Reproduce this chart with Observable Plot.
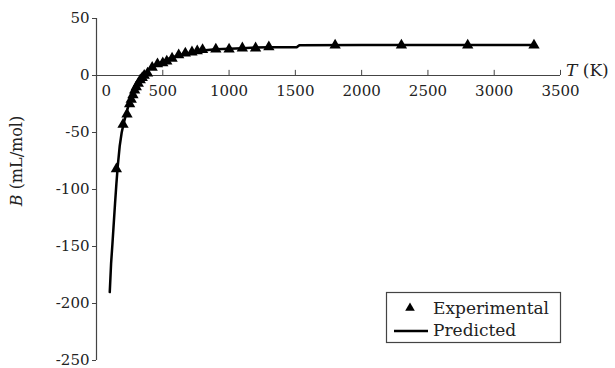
<!DOCTYPE html>
<html>
<head>
<meta charset="utf-8">
<script src="https://cdn.jsdelivr.net/npm/d3@7"></script>
<script src="https://cdn.jsdelivr.net/npm/@observablehq/plot@0.6"></script>
<style>
  html, body { margin: 0; padding: 0; background: #fff; }
</style>
</head>
<body>
<div id="chart"></div>
<script>
// Experimental points (T in K, B in mL/mol)
const expT = [150, 200, 230, 250, 262, 275, 288, 300, 315, 330, 345, 360, 385, 420, 460, 500, 530, 570, 620, 670, 720, 760, 800, 900, 1000, 1100, 1200, 1300, 1800, 2300, 2800, 3300];
const expB = [-82, -43, -34, -25, -21, -17, -13, -10, -7, -4, -2, 0, 2, 7, 10, 11, 12.5, 15, 18, 19.5, 20.5, 21.5, 22.5, 23, 23, 24, 24, 25, 26.6, 26.6, 26.6, 26.6];

// Predicted curve
const predT = [100, 110, 120, 130, 140, 150, 160, 175, 190, 205, 225, 250, 275, 300, 325, 350, 375, 400, 450, 500, 550, 600, 650, 700, 750, 800, 900, 1000, 1100, 1200, 1300, 1510, 1530, 2000, 2500, 3000, 3300];
const predB = [-190, -165, -148, -130, -112, -95, -80, -62, -50, -42, -33, -23, -15, -9, -4, 0, 3, 6, 9.5, 12.5, 15, 17, 18.5, 19.5, 20.5, 22, 23, 23.5, 24, 24.5, 24.8, 24.8, 26.6, 26.7, 26.7, 26.7, 26.7];

const xTicks = [0, 500, 1000, 1500, 2000, 2500, 3000, 3500];
const yTicks = [50, 0, -50, -100, -150, -200, -250];

const exp = expT.map((t, i) => ({T: t, B: expB[i]}));
const pred = predT.map((t, i) => ({T: t, B: predB[i]}));

const axisColor = "#444";

const chart = Plot.plot({
  width: 615,
  height: 368,
  marginLeft: 96,
  marginRight: 55,
  marginTop: 18,
  marginBottom: 8,
  style: {fontFamily: "'DejaVu Serif', serif", fontSize: "15px", background: "#fff", color: "#222"},
  x: {domain: [0, 3500], axis: null},
  y: {domain: [-250, 50], axis: null},
  marks: [
    Plot.axisY(yTicks, {tickSize: 4, tickPadding: 3, tickFormat: d => String(d), label: null, stroke: axisColor, fill: "#222"}),
    Plot.ruleX([0], {stroke: axisColor, strokeWidth: 1.2}),
    Plot.ruleY([0], {stroke: axisColor, strokeWidth: 1.2}),
    Plot.ruleX(xTicks.filter(d => d > 0), {x: d => d, y1: 0, y2: 4.5, stroke: axisColor, strokeWidth: 1}),
    Plot.text(xTicks.filter(d => d > 0), {x: d => d, y: 0, dy: 16, text: d => String(d), fill: "#222"}),
    Plot.text([0], {x: d => d, y: 0, dy: 16, dx: 5, textAnchor: "start", text: d => String(d), fill: "#222"}),
    Plot.line(pred, {x: "T", y: "B", stroke: "#000", strokeWidth: 2.5}),
    Plot.dot(exp, {x: "T", y: "B", symbol: "triangle", r: 4.2, fill: "#000", stroke: "none"})
  ]
});

document.getElementById("chart").appendChild(chart);

const svg = d3.select(chart);

// axis titles
const tl = svg.append("text")
  .attr("x", 566).attr("y", 76)
  .attr("text-anchor", "start")
  .attr("font-size", 17).attr("fill", "#222");
tl.append("tspan").attr("font-style", "italic").text("T");
tl.append("tspan").text(" (K)");

const yl = svg.append("text")
  .attr("transform", "translate(22,161) rotate(-90)")
  .attr("text-anchor", "middle")
  .attr("font-size", 16).attr("fill", "#222");
yl.append("tspan").attr("font-style", "italic").text("B");
yl.append("tspan").text(" (mL/mol)");

// legend
const lg = svg.append("g").attr("text-anchor", "start");
lg.append("rect").attr("x", 386.5).attr("y", 292.5).attr("width", 174).attr("height", 50)
  .attr("fill", "#fff").attr("stroke", "#444").attr("stroke-width", 1.2);
lg.append("path").attr("d", d3.symbol(d3.symbolTriangle, 40)())
  .attr("transform", "translate(410,308)").attr("fill", "#000");
lg.append("line").attr("x1", 394).attr("x2", 428).attr("y1", 331).attr("y2", 331)
  .attr("stroke", "#000").attr("stroke-width", 2.5);
lg.append("text").attr("x", 433).attr("y", 308).attr("dy", "0.35em")
  .attr("font-size", 17).attr("fill", "#222").text("Experimental");
lg.append("text").attr("x", 433).attr("y", 330).attr("dy", "0.35em")
  .attr("font-size", 17).attr("fill", "#222").text("Predicted");
</script>
</body>
</html>
